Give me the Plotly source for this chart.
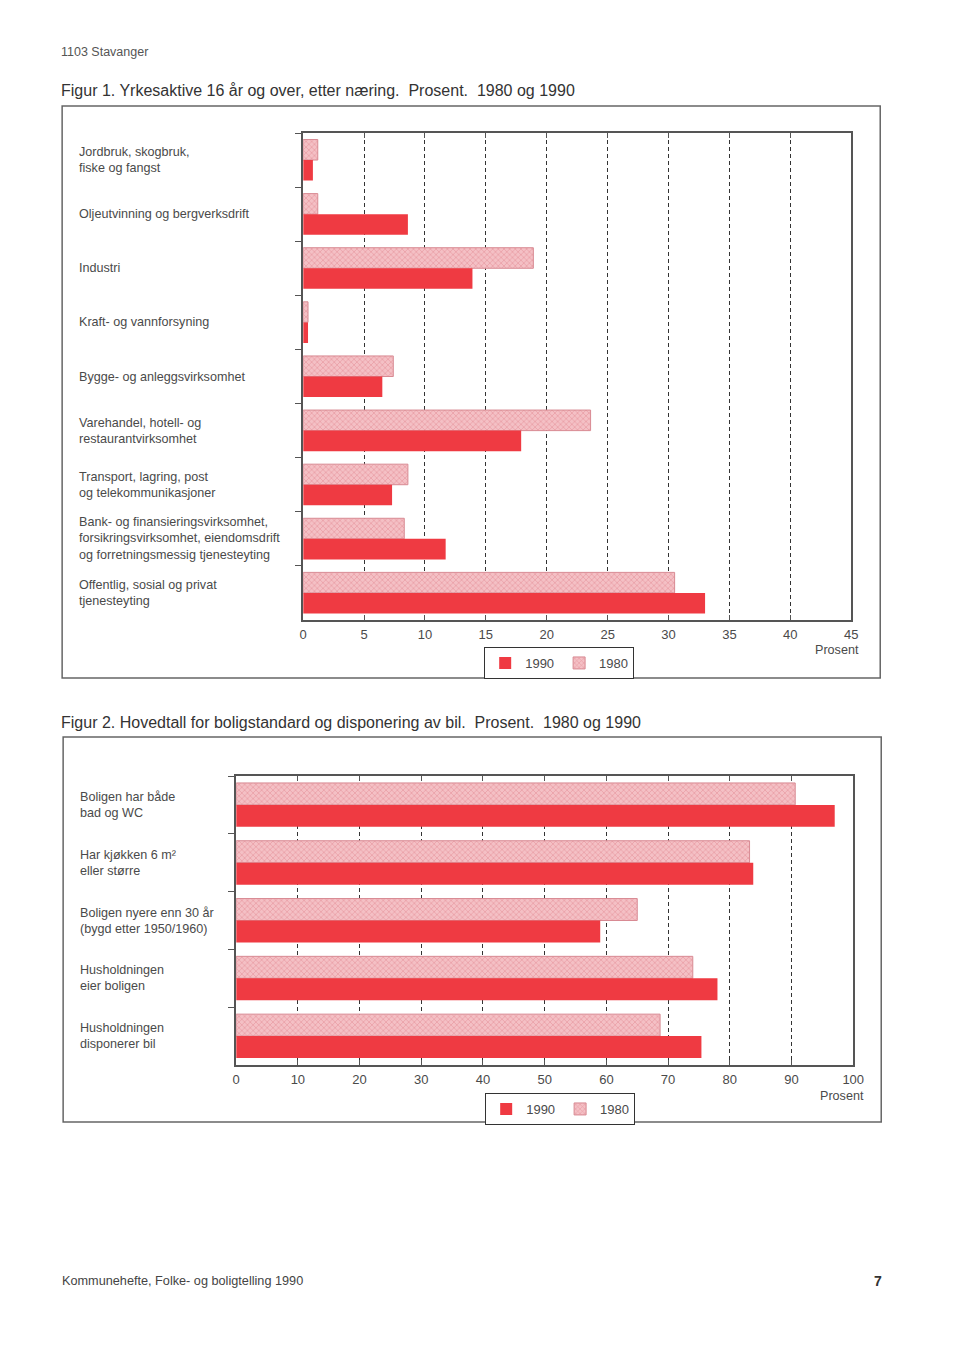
import plotly.graph_objects as go

# ---------------- data ----------------
cat_top = [
    "Jordbruk, skogbruk,<br>fiske og fangst",
    "Oljeutvinning og bergverksdrift",
    "Industri",
    "Kraft- og vannforsyning",
    "Bygge- og anleggsvirksomhet",
    "Varehandel, hotell- og<br>restaurantvirksomhet",
    "Transport, lagring, post<br>og telekommunikasjoner",
    "Bank- og finansieringsvirksomhet,<br>forsikringsvirksomhet, eiendomsdrift<br>og forretningsmessig tjenesteyting",
    "Offentlig, sosial og privat<br>tjenesteyting",
]
top_1980 = [1.2, 1.2, 18.9, 0.4, 7.4, 23.6, 8.6, 8.3, 30.5]
top_1990 = [0.8, 8.6, 13.9, 0.4, 6.5, 17.9, 7.3, 11.7, 33.0]
top_ticks = [0, 5, 10, 15, 20, 25, 30, 35, 40, 45]

cat_bot = [
    "Boligen har både<br>bad og WC",
    "Har kjøkken 6 m²<br>eller større",
    "Boligen nyere enn 30 år<br>(bygd etter 1950/1960)",
    "Husholdningen<br>eier boligen",
    "Husholdningen<br>disponerer bil",
]
bot_1980 = [90.6, 83.2, 65.0, 74.0, 68.7]
bot_1990 = [97.0, 83.8, 59.0, 78.0, 75.4]
bot_ticks = [0, 10, 20, 30, 40, 50, 60, 70, 80, 90, 100]

# ---------------- styling ----------------
PAGE_W, PAGE_H = 960, 1357
BODY_MARGIN = 8
W, H = PAGE_W - 2 * BODY_MARGIN, PAGE_H - 2 * BODY_MARGIN
SX, OX = 0.984, 4.0   # observed horizontal mapping of the page capture
RED = "#ef3a42"
PINK = "#f4c0c5"
PINK_FG = "#d96c78"
FONT = "Liberation Sans"
TXT = "#4a4a4a"


def px(x):
    return ((x - OX) / SX - BODY_MARGIN) / W


def py(y):
    return 1 - (y - BODY_MARGIN) / H


pattern = dict(shape="x", fillmode="overlay", fgcolor=PINK_FG, size=4, solidity=0.3)

fig = go.Figure()

# top chart
fig.add_trace(go.Bar(y=cat_top, x=top_1980, orientation="h", name="1980",
                     marker=dict(color=PINK, pattern=pattern, line=dict(color="#d88a93", width=1)),
                     xaxis="x", yaxis="y", legend="legend"))
fig.add_trace(go.Bar(y=cat_top, x=top_1990, orientation="h", name="1990",
                     marker=dict(color=RED, line=dict(width=0)),
                     xaxis="x", yaxis="y", legend="legend"))
# bottom chart
fig.add_trace(go.Bar(y=cat_bot, x=bot_1980, orientation="h", name="1980",
                     marker=dict(color=PINK, pattern=pattern, line=dict(color="#d88a93", width=1)),
                     xaxis="x2", yaxis="y2", legend="legend2"))
fig.add_trace(go.Bar(y=cat_bot, x=bot_1990, orientation="h", name="1990",
                     marker=dict(color=RED, line=dict(width=0)),
                     xaxis="x2", yaxis="y2", legend="legend2"))

xcommon = dict(showgrid=True, gridcolor="#333333", griddash="4px,3px", gridwidth=1,
               showline=True, linecolor="#555555", linewidth=1.5, mirror="ticks",
               ticks="inside", ticklen=5, tickcolor="#555555", zeroline=False,
               tickfont=dict(family=FONT, size=13, color=TXT), ticklabelstandoff=2)
ycommon = dict(type="category", autorange="reversed", showticklabels=False,
               showline=True, linecolor="#555555", linewidth=1.5, mirror=True,
               ticks="outside", ticklen=6, tickcolor="#555555", tickson="boundaries",
               showgrid=False, zeroline=False)

legcommon = dict(xanchor="left", yanchor="top", orientation="h",
                 traceorder="reversed", bordercolor="#333333", borderwidth=1,
                 font=dict(family=FONT, size=13, color=TXT), itemwidth=30,
                 tracegroupgap=0, bgcolor="white")

fig.update_layout(
    width=W, height=H,
    margin=dict(l=0, r=0, t=0, b=0),
    paper_bgcolor="white", plot_bgcolor="white",
    barmode="group", bargap=0.24, bargroupgap=0.0,
    xaxis=dict(domain=[px(303), px(851)], range=[0, 45], tickvals=top_ticks, anchor="y", **xcommon),
    yaxis=dict(domain=[py(620), py(133)], anchor="x", **ycommon),
    xaxis2=dict(domain=[px(236), px(853)], range=[0, 100], tickvals=bot_ticks, anchor="y2", **xcommon),
    yaxis2=dict(domain=[py(1065), py(776)], anchor="x2", **ycommon),
    legend=dict(x=px(484), y=py(647), **legcommon),
    legend2=dict(x=px(485), y=py(1093), **legcommon),
    showlegend=True,
)

annotations = []
# category labels (left aligned)
for c in cat_top:
    annotations.append(dict(x=px(77), xref="paper", y=c, yref="y", text=c, showarrow=False,
                            xanchor="left", align="left",
                            font=dict(family=FONT, size=12.6, color=TXT)))
for c in cat_bot:
    annotations.append(dict(x=px(78), xref="paper", y=c, yref="y2", text=c, showarrow=False,
                            xanchor="left", align="left",
                            font=dict(family=FONT, size=12.6, color=TXT)))

annotations += [
    dict(x=px(59), y=py(52), text="1103 Stavanger", xanchor="left", yanchor="middle",
         font=dict(family=FONT, size=12.5, color="#555555")),
    dict(x=px(59), y=py(91), text="Figur 1. Yrkesaktive 16 år og over, etter næring.  Prosent.  1980 og 1990",
         xanchor="left", yanchor="middle", font=dict(family=FONT, size=16, color="#333333")),
    dict(x=px(59), y=py(722), text="Figur 2. Hovedtall for boligstandard og disponering av bil.  Prosent.  1980 og 1990",
         xanchor="left", yanchor="middle", font=dict(family=FONT, size=16, color="#333333")),
    dict(x=px(861), y=py(650), text="Prosent", xanchor="right", yanchor="middle",
         font=dict(family=FONT, size=12.6, color=TXT)),
    dict(x=px(866), y=py(1096), text="Prosent", xanchor="right", yanchor="middle",
         font=dict(family=FONT, size=12.6, color=TXT)),
    dict(x=px(60), y=py(1281), text="Kommunehefte, Folke- og boligtelling 1990", xanchor="left", yanchor="middle",
         font=dict(family=FONT, size=12.7, color="#444444")),
    dict(x=px(884), y=py(1281), text="<b>7</b>", xanchor="right", yanchor="middle",
         font=dict(family=FONT, size=14, color="#333333")),
]
for a in annotations:
    a.setdefault("xref", "paper")
    a.setdefault("yref", "paper")
    a.setdefault("showarrow", False)
fig.update_layout(annotations=annotations)

fig.update_layout(shapes=[
    dict(type="rect", xref="paper", yref="paper", x0=px(62), x1=px(880), y0=py(678), y1=py(106),
         line=dict(color="#666666", width=1.5), layer="below"),
    dict(type="rect", xref="paper", yref="paper", x0=px(63), x1=px(881), y0=py(1122), y1=py(737),
         line=dict(color="#666666", width=1.5), layer="below"),
])

fig.write_html("out.html")
